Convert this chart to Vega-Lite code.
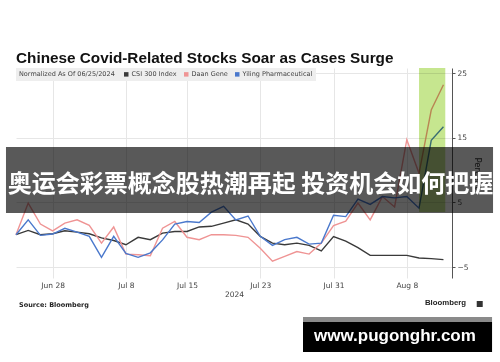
{
  "$schema": "https://vega.github.io/schema/vega-lite/v6.json",
  "width": 436,
  "height": 210,
  "autosize": {"type": "none"},
  "padding": {"left": 16, "top": 68, "right": 48, "bottom": 84},
  "background": "white",
  "title": {
    "text": "Chinese Covid-Related Stocks Soar as Cases Surge",
    "anchor": "start",
    "frame": "group",
    "font": "Liberation Sans",
    "fontSize": 15.3,
    "fontWeight": "bold",
    "color": "#111111",
    "baseline": "alphabetic",
    "offset": -10
  },
  "config": {
    "view": {"stroke": null},
    "font": "DejaVu Sans"
  },
  "layer": [
    {
      "data": {
        "values": [
          {"n": 0, "date": "2024-06-25", "CSI 300 Index": 0, "Daan Gene": 0, "Yiling Pharmaceutical": 0},
          {"n": 1, "date": "2024-06-26", "CSI 300 Index": 0.67, "Daan Gene": 4.9, "Yiling Pharmaceutical": 2.3},
          {"n": 2, "date": "2024-06-27", "CSI 300 Index": 0, "Daan Gene": 1.65, "Yiling Pharmaceutical": -0.1},
          {"n": 3, "date": "2024-06-28", "CSI 300 Index": 0.15, "Daan Gene": 0.6, "Yiling Pharmaceutical": 0.1},
          {"n": 4, "date": "2024-07-01", "CSI 300 Index": 0.6, "Daan Gene": 1.8, "Yiling Pharmaceutical": 1.0},
          {"n": 5, "date": "2024-07-02", "CSI 300 Index": 0.4, "Daan Gene": 2.3, "Yiling Pharmaceutical": 0.4},
          {"n": 6, "date": "2024-07-03", "CSI 300 Index": 0.15, "Daan Gene": 1.45, "Yiling Pharmaceutical": -0.25},
          {"n": 7, "date": "2024-07-04", "CSI 300 Index": -0.5, "Daan Gene": -1.3, "Yiling Pharmaceutical": -3.5},
          {"n": 8, "date": "2024-07-05", "CSI 300 Index": -0.9, "Daan Gene": 1.2, "Yiling Pharmaceutical": -0.25},
          {"n": 9, "date": "2024-07-08", "CSI 300 Index": -1.55, "Daan Gene": -3.0, "Yiling Pharmaceutical": -2.9},
          {"n": 10, "date": "2024-07-09", "CSI 300 Index": -0.4, "Daan Gene": -3.1, "Yiling Pharmaceutical": -3.5},
          {"n": 11, "date": "2024-07-10", "CSI 300 Index": -0.77, "Daan Gene": -3.25, "Yiling Pharmaceutical": -2.8},
          {"n": 12, "date": "2024-07-11", "CSI 300 Index": 0.25, "Daan Gene": 1.0, "Yiling Pharmaceutical": -0.8},
          {"n": 13, "date": "2024-07-12", "CSI 300 Index": 0.5, "Daan Gene": 2.05, "Yiling Pharmaceutical": 1.65},
          {"n": 14, "date": "2024-07-15", "CSI 300 Index": 0.5, "Daan Gene": -0.4, "Yiling Pharmaceutical": 2.05},
          {"n": 15, "date": "2024-07-16", "CSI 300 Index": 1.2, "Daan Gene": -0.77, "Yiling Pharmaceutical": 1.9},
          {"n": 16, "date": "2024-07-17", "CSI 300 Index": 1.3, "Daan Gene": 0, "Yiling Pharmaceutical": 3.5},
          {"n": 17, "date": "2024-07-18", "CSI 300 Index": 1.8, "Daan Gene": 0, "Yiling Pharmaceutical": 4.4},
          {"n": 18, "date": "2024-07-19", "CSI 300 Index": 2.3, "Daan Gene": -0.1, "Yiling Pharmaceutical": 2.3},
          {"n": 19, "date": "2024-07-22", "CSI 300 Index": 1.65, "Daan Gene": -0.4, "Yiling Pharmaceutical": 2.9},
          {"n": 20, "date": "2024-07-23", "CSI 300 Index": -0.25, "Daan Gene": -2.1, "Yiling Pharmaceutical": -0.25},
          {"n": 21, "date": "2024-07-24", "CSI 300 Index": -1.3, "Daan Gene": -4.1, "Yiling Pharmaceutical": -1.65},
          {"n": 22, "date": "2024-07-25", "CSI 300 Index": -1.55, "Daan Gene": -3.35, "Yiling Pharmaceutical": -0.77},
          {"n": 23, "date": "2024-07-26", "CSI 300 Index": -1.3, "Daan Gene": -2.6, "Yiling Pharmaceutical": -0.4},
          {"n": 24, "date": "2024-07-29", "CSI 300 Index": -1.65, "Daan Gene": -3.0, "Yiling Pharmaceutical": -1.45},
          {"n": 25, "date": "2024-07-30", "CSI 300 Index": -2.5, "Daan Gene": -1.3, "Yiling Pharmaceutical": -1.3},
          {"n": 26, "date": "2024-07-31", "CSI 300 Index": -0.3, "Daan Gene": 1.4, "Yiling Pharmaceutical": 3.0},
          {"n": 27, "date": "2024-08-01", "CSI 300 Index": -1.0, "Daan Gene": 2.1, "Yiling Pharmaceutical": 2.8},
          {"n": 28, "date": "2024-08-02", "CSI 300 Index": -2.0, "Daan Gene": 4.9, "Yiling Pharmaceutical": 5.5},
          {"n": 29, "date": "2024-08-05", "CSI 300 Index": -3.2, "Daan Gene": 2.3, "Yiling Pharmaceutical": 4.7},
          {"n": 30, "date": "2024-08-06", "CSI 300 Index": -3.2, "Daan Gene": 5.9, "Yiling Pharmaceutical": 5.9},
          {"n": 31, "date": "2024-08-07", "CSI 300 Index": -3.2, "Daan Gene": 4.3, "Yiling Pharmaceutical": 5.7},
          {"n": 32, "date": "2024-08-08", "CSI 300 Index": -3.2, "Daan Gene": 14.7, "Yiling Pharmaceutical": 5.9},
          {"n": 33, "date": "2024-08-09", "CSI 300 Index": -3.6, "Daan Gene": 9.5, "Yiling Pharmaceutical": 4.1},
          {"n": 34, "date": "2024-08-12", "CSI 300 Index": -3.7, "Daan Gene": 19.3, "Yiling Pharmaceutical": 14.6},
          {"n": 35, "date": "2024-08-13", "CSI 300 Index": -3.85, "Daan Gene": 23.2, "Yiling Pharmaceutical": 16.7}
        ]
      },
      "transform": [
        {"fold": ["CSI 300 Index", "Daan Gene", "Yiling Pharmaceutical"], "as": ["series", "pct"]}
      ],
      "mark": {"type": "line", "strokeWidth": 1.4},
      "encoding": {
        "x": {
          "field": "n",
          "type": "quantitative",
          "scale": {"domain": [0, 35.7], "nice": false, "zero": false},
          "axis": {
            "values": [3, 9, 14, 20, 26, 32],
            "labelExpr": "datum.value == 3 ? 'Jun 28' : datum.value == 9 ? 'Jul 8' : datum.value == 14 ? 'Jul 15' : datum.value == 20 ? 'Jul 23' : datum.value == 26 ? 'Jul 31' : 'Aug 8'",
            "title": "2024",
            "grid": true,
            "gridColor": "#e6e6e6",
            "ticks": false,
            "domain": false,
            "labelFontSize": 7.5,
            "labelColor": "#444444",
            "labelPadding": 3,
            "titleFontSize": 7.5,
            "titleFontWeight": "normal",
            "titleColor": "#444444",
            "titlePadding": 2
          }
        },
        "y": {
          "field": "pct",
          "type": "quantitative",
          "scale": {"domain": [-6.7, 25.8], "nice": false, "zero": false},
          "axis": {
            "orient": "right",
            "values": [-5, 0, 5, 10, 15, 20, 25],
            "grid": true,
            "gridColor": "#e6e6e6",
            "domainColor": "#555555",
            "tickColor": "#555555",
            "tickSize": 3,
            "labelFontSize": 7.5,
            "labelColor": "#444444",
            "labelPadding": 2,
            "title": "Percent",
            "titleFontSize": 8.5,
            "titleFontWeight": "normal",
            "titleColor": "#333333",
            "titlePadding": 4
          }
        },
        "color": {
          "field": "series",
          "type": "nominal",
          "scale": {
            "domain": ["CSI 300 Index", "Daan Gene", "Yiling Pharmaceutical"],
            "range": ["#3a3a3a", "#ef9494", "#4a78cc"]
          },
          "legend": {
            "orient": "top-left",
            "offset": 0,
            "direction": "horizontal",
            "title": "Normalized As Of 06/25/2024",
            "titleOrient": "left",
            "titleFontSize": 6.5,
            "titleFontWeight": "normal",
            "titleColor": "#444444",
            "titlePadding": 8,
            "labelFontSize": 6.5,
            "labelColor": "#444444",
            "labelOffset": 2,
            "symbolType": "square",
            "symbolSize": 20,
            "symbolStrokeWidth": 0,
            "columnPadding": 6,
            "fillColor": "#eeeeee",
            "padding": 3,
            "encode": {
              "symbols": {
                "update": {
                  "fill": {"scale": "color", "field": "value"},
                  "stroke": {"value": "transparent"}
                }
              }
            }
          }
        }
      }
    },
    {
      "data": {"values": [{}]},
      "mark": {"type": "rect", "fill": "#c6e68f", "blend": "multiply"},
      "encoding": {
        "x": {"datum": 33},
        "x2": {"datum": 35.15},
        "y": {"datum": 25.8},
        "y2": {"datum": 3.5}
      }
    },
    {
      "data": {"values": [{}]},
      "mark": {"type": "rect", "fill": "#000000", "opacity": 0.65},
      "encoding": {
        "x": {"datum": -0.82},
        "x2": {"datum": 39.06},
        "y": {"datum": 13.57},
        "y2": {"datum": 3.36}
      }
    },
    {
      "data": {"values": [{}]},
      "mark": {
        "type": "text",
        "text": "奥运会彩票概念股热潮再起 投资机会如何把握",
        "font": "Noto Sans CJK SC",
        "fontWeight": "bold",
        "fontSize": 24,
        "color": "#ffffff",
        "align": "center",
        "baseline": "middle"
      },
      "encoding": {
        "x": {"datum": 19.2},
        "y": {"datum": 7.69}
      }
    },
    {
      "data": {"values": [{}]},
      "mark": {
        "type": "text",
        "text": "Source: Bloomberg",
        "font": "DejaVu Sans",
        "fontWeight": "bold",
        "fontSize": 6.5,
        "color": "#222222",
        "align": "left",
        "baseline": "middle"
      },
      "encoding": {
        "x": {"datum": 0.25},
        "y": {"datum": -10.88}
      }
    },
    {
      "data": {"values": [{}]},
      "mark": {
        "type": "text",
        "text": "Bloomberg",
        "font": "Liberation Sans",
        "fontWeight": "bold",
        "fontSize": 7.8,
        "color": "#222222",
        "align": "right",
        "baseline": "middle"
      },
      "encoding": {
        "x": {"datum": 36.85},
        "y": {"datum": -10.6}
      }
    },
    {
      "data": {"values": [{}]},
      "mark": {"type": "point", "shape": "square", "size": 36, "filled": true, "color": "#333333", "opacity": 1},
      "encoding": {
        "x": {"datum": 37.97},
        "y": {"datum": -10.72}
      }
    },
    {
      "data": {"values": [{}]},
      "mark": {"type": "rect", "fill": "#8a8a8a"},
      "encoding": {
        "x": {"datum": 23.5},
        "x2": {"datum": 38.98},
        "y": {"datum": -12.74},
        "y2": {"datum": -13.51}
      }
    },
    {
      "data": {"values": [{}]},
      "mark": {"type": "rect", "fill": "#000000"},
      "encoding": {
        "x": {"datum": 23.5},
        "x2": {"datum": 38.98},
        "y": {"datum": -13.51},
        "y2": {"datum": -18.15}
      }
    },
    {
      "data": {"values": [{}]},
      "mark": {
        "type": "text",
        "text": "www.pugonghr.com",
        "font": "Liberation Sans",
        "fontWeight": "bold",
        "fontSize": 17,
        "color": "#ffffff",
        "align": "center",
        "baseline": "middle"
      },
      "encoding": {
        "x": {"datum": 31.03},
        "y": {"datum": -15.75}
      }
    }
  ]
}
